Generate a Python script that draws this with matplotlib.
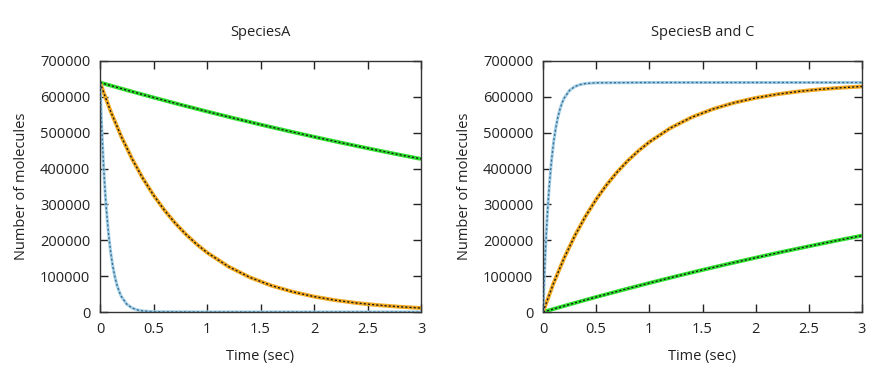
import matplotlib
matplotlib.use("Agg")
import matplotlib.pyplot as plt

plt.rcParams['font.family'] = ['Open Sans', 'DejaVu Sans']

# ---- Data ----
t_slow = [0, 0.25, 0.5, 0.75, 1.0, 1.25, 1.5, 1.75, 2.0, 2.25, 2.5, 2.75, 3.0]
a_slow = [640000, 618800, 598200, 578400, 559200, 540600, 522700, 505300,
          488600, 472300, 456700, 441500, 426900]

t_mid = [0, 0.1, 0.2, 0.3, 0.4, 0.5, 0.6, 0.7, 0.8, 0.9, 1.0, 1.2, 1.4, 1.6,
         1.8, 2.0, 2.2, 2.4, 2.6, 2.8, 3.0]
a_mid = [640000, 559200, 488600, 426900, 373000, 325900, 284700, 248800,
         217400, 189900, 165900, 126700, 96700, 73800, 56300, 43000, 32800,
         25000, 19100, 14600, 11100]

t_fast = [0, 0.01, 0.02, 0.03, 0.04, 0.05, 0.06, 0.08, 0.10, 0.12, 0.14, 0.16,
          0.18, 0.20, 0.25, 0.30, 0.35, 0.40, 0.5, 1.0, 2.0, 3.0]
a_fast = [640000, 559200, 488600, 426900, 373000, 325900, 284700, 217400,
          165900, 126700, 96700, 73800, 56300, 43000, 21900, 11100, 5700,
          2900, 750, 0, 0, 0]

# Species B and C (products)
bc_slow = [0, 21200, 41800, 61600, 80800, 99400, 117300, 134700, 151400,
           167700, 183300, 198500, 213100]
bc_mid = [0, 80800, 151400, 213100, 267000, 314100, 355300, 391200, 422600,
          450100, 474100, 513300, 543300, 566200, 583700, 597000, 607200,
          615000, 620900, 625400, 628900]
bc_fast = [0, 80800, 151400, 213100, 267000, 314100, 355300, 422600, 474100,
           513300, 543300, 566200, 583700, 597000, 618100, 628900, 634300,
           637100, 639250, 640000, 640000, 640000]

titles = ["SpeciesA", "SpeciesB and C"]
xticks = [0, 0.5, 1, 1.5, 2, 2.5, 3]
xtick_labels = ["0", "0.5", "1", "1.5", "2", "2.5", "3"]
yticks = [0, 100000, 200000, 300000, 400000, 500000, 600000, 700000]

green = "#2ee02e"
orange = "#f2aa22"
blue_light = "#a5d0e6"
blue_dark = "#3a6d92"

fig = plt.figure(figsize=(8.86, 3.75), dpi=100)
W, H = 886, 375
axes = [
    fig.add_axes([100 / W, (H - 312) / H, 321 / W, 251 / H]),
    fig.add_axes([543 / W, (H - 312) / H, 319 / W, 251 / H]),
]

datasets = [
    (a_slow, a_mid, a_fast),
    (bc_slow, bc_mid, bc_fast),
]

for ax, title, (ys, ym, yf) in zip(axes, titles, datasets):
    # slow (green)
    ax.plot(t_slow, ys, color=green, lw=2.8, solid_capstyle='butt', zorder=2)
    ax.plot(t_slow, ys, color="#1a1a1a", lw=1.0, ls=(0, (1.5, 1.5)), zorder=3)
    # medium (orange)
    ax.plot(t_mid, ym, color=orange, lw=2.8, solid_capstyle='butt', zorder=2)
    ax.plot(t_mid, ym, color="#1a1a1a", lw=1.0, ls=(0, (1.5, 1.5)), zorder=3)
    # fast (blue)
    ax.plot(t_fast, yf, color=blue_light, lw=2.2, solid_capstyle='butt', zorder=2)
    ax.plot(t_fast, yf, color=blue_dark, lw=1.0, ls=(0, (1.5, 1.6)), zorder=3)

    ax.set_xlim(0, 3)
    ax.set_ylim(0, 700000)
    ax.set_xticks(xticks)
    ax.set_xticklabels(xtick_labels)
    ax.set_yticks(yticks)
    ax.set_yticklabels([str(v) for v in yticks])
    ax.tick_params(direction='in', top=True, right=True, length=6, width=1.0,
                   labelsize=10.5, colors="#222222", pad=7)
    for sp in ax.spines.values():
        sp.set_color("#333333")
        sp.set_linewidth(1.0)
    ax.set_title(title, fontsize=10.5, pad=18, color="#222222")
    ax.set_xlabel("Time (sec)", fontsize=10.5, color="#222222", labelpad=9)
    ax.set_ylabel("Number of molecules", fontsize=10.5, color="#222222", labelpad=8)

fig.savefig("out.png", dpi=100, facecolor="white")
